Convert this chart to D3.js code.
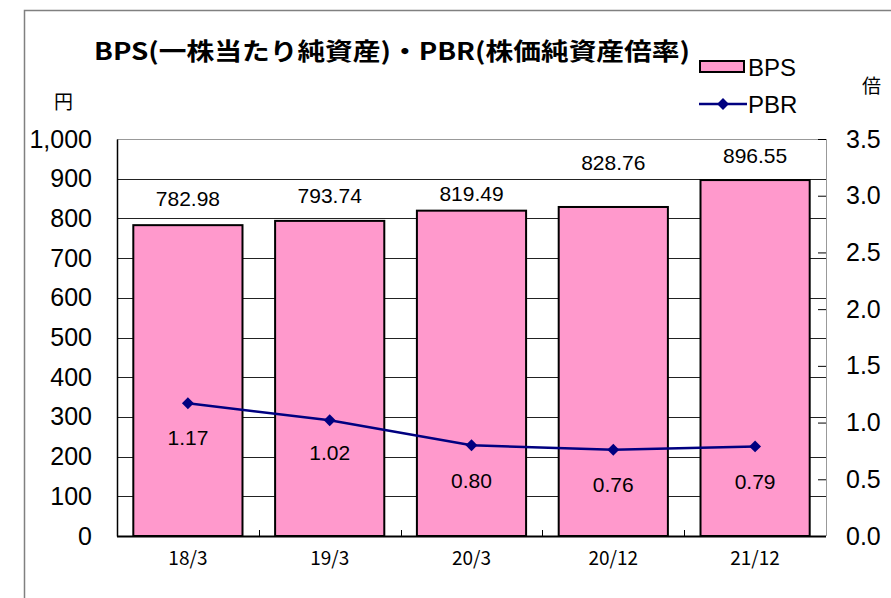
<!DOCTYPE html>
<html>
<head>
<meta charset="utf-8">
<script src="https://cdn.jsdelivr.net/npm/d3@7"></script>
<style>
  html, body { margin: 0; padding: 0; background: #fff; }
  svg { display: block; }
  text { font-family: "Liberation Sans", Arial, sans-serif; fill: #000; }
  .jp { font-family: "Noto Sans CJK JP", sans-serif; }
</style>
</head>
<body>
<svg id="chart" width="891" height="598"></svg>
<script>
// Data
const categories = ["18/3", "19/3", "20/3", "20/12", "21/12"];
const bps = [782.98, 793.74, 819.49, 828.76, 896.55];
const pbr = [1.17, 1.02, 0.80, 0.76, 0.79];
const leftTicks = [0, 100, 200, 300, 400, 500, 600, 700, 800, 900, 1000];
const rightTicks = [0, 0.5, 1.0, 1.5, 2.0, 2.5, 3.0, 3.5];

// label nudges (the source chart had hand-placed labels)
const bpsLabelDy = [-19, -18, -10, -37, -17];
const pbrLabelDy = [42, 40, 43, 42, 43];

const svg = d3.select("#chart");
const W = 891, H = 598;
const plot = { left: 117, right: 826, top: 139, bottom: 536 };

// outer chart frame
svg.append("rect")
  .attr("x", 24.5).attr("y", 10.5)
  .attr("width", W).attr("height", H)
  .attr("fill", "none").attr("stroke", "#808080").attr("stroke-width", 1.5);

const x = d3.scaleBand()
  .domain(categories)
  .range([plot.left, plot.right])
  .paddingInner(0.23)
  .paddingOuter(0.115);

const yL = d3.scaleLinear().domain([0, 1000]).range([plot.bottom, plot.top]);
const yR = d3.scaleLinear().domain([0, 3.5]).range([plot.bottom, plot.top]);

// gridlines
svg.append("g")
  .selectAll("line")
  .data(leftTicks.filter(t => t > 0))
  .join("line")
  .attr("x1", plot.left).attr("x2", plot.right)
  .attr("y1", d => Math.round(yL(d)) + 0.5).attr("y2", d => Math.round(yL(d)) + 0.5)
  .attr("stroke", d => d === 1000 ? "#999" : "#222")
  .attr("stroke-width", 1);

// right border
svg.append("line")
  .attr("x1", plot.right + 0.5).attr("x2", plot.right + 0.5)
  .attr("y1", plot.top).attr("y2", plot.bottom)
  .attr("stroke", "#999");

// bars
svg.append("g")
  .selectAll("rect")
  .data(bps)
  .join("rect")
  .attr("x", (d, i) => x(categories[i]))
  .attr("y", d => yL(d))
  .attr("width", x.bandwidth())
  .attr("height", d => yL(0) - yL(d))
  .attr("fill", "#FF99CC")
  .attr("stroke", "#000")
  .attr("stroke-width", 2);

// left axis
const axL = svg.append("g")
  .attr("transform", `translate(${plot.left},0)`)
  .call(d3.axisLeft(yL).tickValues(leftTicks).tickSize(0).tickPadding(25)
    .tickFormat(d3.format(",")));
axL.select(".domain").attr("stroke", "#000").attr("stroke-width", 1.5);
axL.selectAll("text").attr("font-size", 25).attr("font-family", "Liberation Sans, Arial, sans-serif");

// right axis (ticks inward)
const axR = svg.append("g")
  .attr("transform", `translate(${plot.right},0)`)
  .call(d3.axisRight(yR).tickValues(rightTicks).tickSizeInner(-8).tickSizeOuter(0)
    .tickPadding(20).tickFormat(d3.format(".1f")));
axR.select(".domain").remove();
axR.selectAll("line").attr("stroke", "#000");
axR.selectAll("text").attr("font-size", 25).attr("font-family", "Liberation Sans, Arial, sans-serif");

// bottom axis: category ticks between bars
const gapTicks = categories.slice(1).map(c => x(c) - x.step() * x.paddingInner() / 2);
svg.append("line")
  .attr("x1", plot.left).attr("x2", plot.right)
  .attr("y1", plot.bottom + 0.5).attr("y2", plot.bottom + 0.5)
  .attr("stroke", "#000").attr("stroke-width", 2);
svg.append("g")
  .selectAll("line")
  .data(gapTicks)
  .join("line")
  .attr("x1", d => Math.round(d) + 0.5).attr("x2", d => Math.round(d) + 0.5)
  .attr("y1", plot.bottom).attr("y2", plot.bottom - 6)
  .attr("stroke", "#000");
svg.append("g")
  .selectAll("text")
  .data(categories)
  .join("text")
  .attr("class", "jp")
  .attr("x", d => x(d) + x.bandwidth() / 2)
  .attr("y", 565)
  .attr("text-anchor", "middle")
  .attr("font-size", 19)
  .text(d => d);

// BPS value labels
svg.append("g")
  .selectAll("text")
  .data(bps)
  .join("text")
  .attr("x", (d, i) => x(categories[i]) + x.bandwidth() / 2)
  .attr("y", (d, i) => yL(d) + bpsLabelDy[i])
  .attr("text-anchor", "middle")
  .attr("font-size", 21)
  .text(d => d3.format(".2f")(d));

// PBR line
const cx = i => x(categories[i]) + x.bandwidth() / 2;
svg.append("path")
  .datum(pbr)
  .attr("d", d3.line().x((d, i) => cx(i)).y(d => yR(d)))
  .attr("fill", "none")
  .attr("stroke", "#000080")
  .attr("stroke-width", 2.5);

const diamond = d3.symbol().type(d3.symbolDiamond2).size(90);
svg.append("g")
  .selectAll("path")
  .data(pbr)
  .join("path")
  .attr("d", diamond)
  .attr("transform", (d, i) => `translate(${cx(i)},${yR(d)})`)
  .attr("fill", "#000080");

svg.append("g")
  .selectAll("text")
  .data(pbr)
  .join("text")
  .attr("x", (d, i) => cx(i))
  .attr("y", (d, i) => yR(d) + pbrLabelDy[i])
  .attr("text-anchor", "middle")
  .attr("font-size", 21)
  .text(d => d3.format(".2f")(d));

// title
svg.append("text")
  .attr("class", "jp")
  .attr("x", 94).attr("y", 60)
  .attr("font-size", 24)
  .attr("font-weight", "bold")
  .attr("textLength", 596)
  .attr("lengthAdjust", "spacingAndGlyphs")
  .text("BPS(一株当たり純資産)・PBR(株価純資産倍率)");

// units
svg.append("text").attr("class", "jp").attr("x", 54).attr("y", 109)
  .attr("font-size", 19).text("円");
svg.append("text").attr("class", "jp").attr("x", 862).attr("y", 93)
  .attr("font-size", 19).text("倍");

// legend
const lg = svg.append("g");
lg.append("rect")
  .attr("x", 700).attr("y", 61).attr("width", 44).attr("height", 11)
  .attr("fill", "#FF99CC").attr("stroke", "#000").attr("stroke-width", 2);
lg.append("text").attr("x", 748).attr("y", 76).attr("font-size", 24).text("BPS");
lg.append("line")
  .attr("x1", 699).attr("x2", 747).attr("y1", 104).attr("y2", 104)
  .attr("stroke", "#000080").attr("stroke-width", 2.5);
lg.append("path")
  .attr("d", diamond)
  .attr("transform", "translate(723,104)")
  .attr("fill", "#000080");
lg.append("text").attr("x", 748).attr("y", 113).attr("font-size", 24).text("PBR");
</script>
</body>
</html>
